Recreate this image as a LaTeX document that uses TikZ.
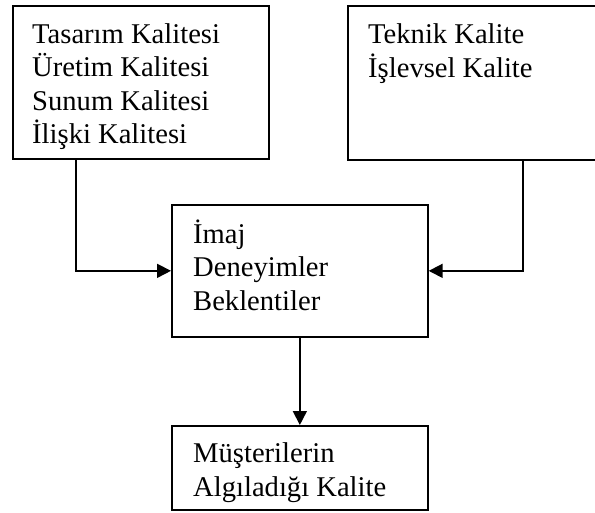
\documentclass[tikz,border=0pt]{standalone}
\usepackage{fontspec}
\setmainfont{Liberation Serif}
\usetikzlibrary{arrows.meta,calc}

\tikzset{
  box/.style={draw=black, line width=1.7pt, rectangle, inner sep=0pt, anchor=north west},
  boxtext/.style={anchor=north west, inner sep=0pt, align=left,
                  font=\fontsize{28.6}{33.5}\selectfont},
  link/.style={line width=1.7pt, -{Triangle[length=14pt,width=14pt]}}
}

\begin{document}
\begin{tikzpicture}[x=1pt,y=-1pt]
  \useasboundingbox (0,0) rectangle (595,513);

  % boxes
  \node[box, minimum width=256pt, minimum height=153pt] (b1) at (12,5) {};
  \node[box, minimum width=251pt, minimum height=154pt] (b2) at (347,5) {};
  \node[box, minimum width=256pt, minimum height=132pt] (b3) at (171,204) {};
  \node[box, minimum width=256pt, minimum height=84pt]  (b4) at (171,425) {};

  % box texts
  \node[boxtext] (t1) at ([shift={(20,14.5)}]b1.north west)
    {\strut Tasarım Kalitesi\\Üretim Kalitesi\\Sunum Kalitesi\\İlişki Kalitesi};
  \node[boxtext] (t2) at ([shift={(21,14.5)}]b2.north west)
    {\strut Teknik Kalite\\İşlevsel Kalite};
  \node[boxtext] (t3) at ([shift={(22,15.5)}]b3.north west)
    {\strut İmaj\\Deneyimler\\Beklentiler};
  \node[boxtext] (t4) at ([shift={(22,14)}]b4.north west)
    {\strut Müşterilerin\\Algıladığı Kalite};

  % bend columns of the side connectors
  \coordinate (j1) at (76,270);
  \coordinate (j2) at (523,270);

  % connectors
  \draw[link] (j1 |- b1.south) |- (b3.west);
  \draw[link] (j2 |- b2.south) |- (b3.east);
  \draw[link] (b3.south) -- (b4.north);
\end{tikzpicture}
\end{document}
